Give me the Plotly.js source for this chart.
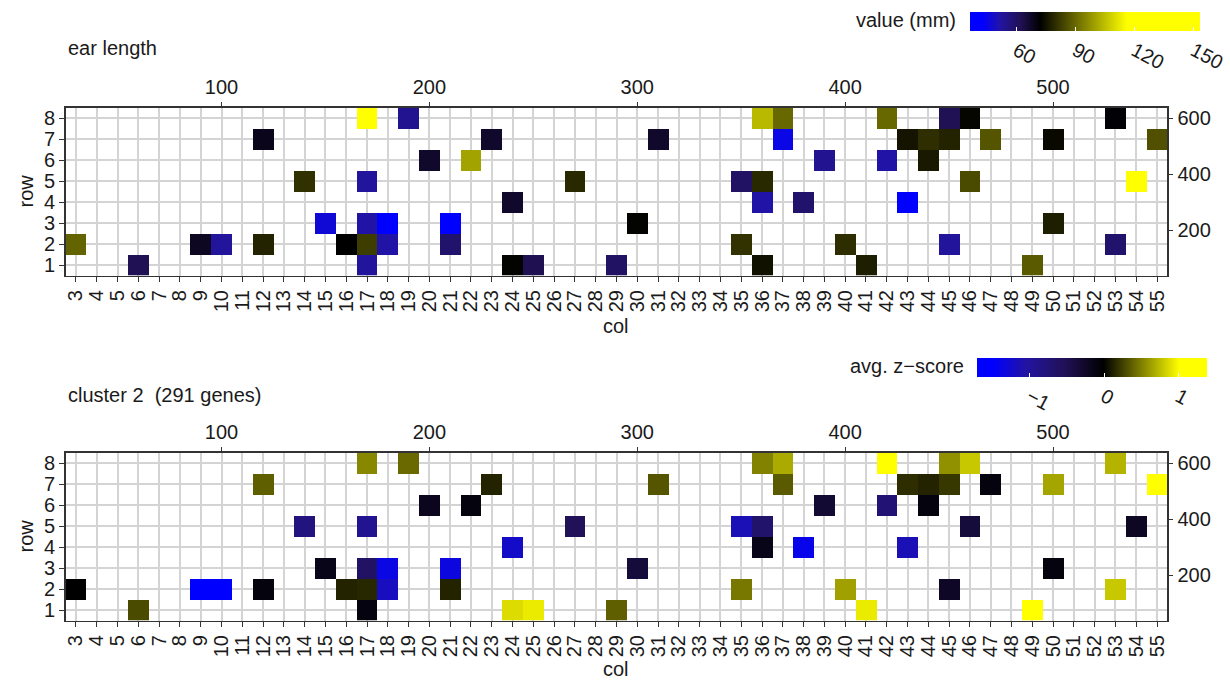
<!DOCTYPE html>
<html>
<head>
<meta charset="utf-8">
<script src="https://cdn.plot.ly/plotly-3.0.1.min.js"></script>
<style>html,body{margin:0;padding:0;background:#fff;}#chart{width:1230px;height:681px;}</style>
</head>
<body>
<div id="chart"></div>
<script>
// ---------- data ----------
var colLabels = [];
for (var c = 3; c <= 55; c++) colLabels.push(c);
var rowLabels = [1, 2, 3, 4, 5, 6, 7, 8];
var topAxisTicks = [100, 200, 300, 400, 500];
var rightAxisTicks = [200, 400, 600];

// panel 1: ear length (mm)
var earCol = [17, 19, 12, 23, 20, 22, 14, 17, 27, 24, 15, 17, 18, 21, 3, 9, 10, 12, 16, 17, 18, 21, 6, 17, 24, 25, 29,
              36, 37, 42, 45, 46, 53, 31, 37, 43, 44, 45, 47, 50, 55, 39, 42, 44, 35, 36, 46, 54, 36, 38, 43, 30, 50, 35, 40, 45, 53, 36, 41, 49];
var earRow = [8, 8, 7, 7, 6, 6, 5, 5, 5, 4, 3, 3, 3, 3, 2, 2, 2, 2, 2, 2, 2, 2, 1, 1, 1, 1, 1,
              8, 8, 8, 8, 8, 8, 7, 7, 7, 7, 7, 7, 7, 7, 6, 6, 6, 5, 5, 5, 5, 4, 4, 4, 3, 3, 2, 2, 2, 2, 1, 1, 1];
var earVal = [153, 54, 69, 67, 67, 100, 80.5, 52.5, 79, 67, 47, 51.5, 36.5, 40, 89, 68, 52.5, 78, 72, 82.5, 51.5, 59, 62, 52.5, 72.5, 62.5, 60,
              104, 90, 90, 62, 73, 71.3, 67, 45.5, 75.5, 80, 78, 86.7, 73.5, 85.8, 54, 51.5, 76.3, 60, 79, 85, 128, 51.5, 59, 41, 72.5, 77.2, 80.6, 79.8, 52.5, 59, 75, 77.2, 87.5];

// panel 2: cluster 2 average z-score
var zCol = [17, 19, 12, 23, 20, 22, 14, 17, 27, 24, 15, 17, 18, 21, 3, 9, 10, 12, 16, 17, 18, 21, 6, 17, 24, 25, 29,
            36, 37, 42, 45, 46, 53, 31, 37, 43, 44, 45, 47, 50, 55, 39, 42, 44, 35, 36, 46, 54, 36, 38, 43, 30, 50, 35, 40, 45, 53, 41, 49];
var zRow = [8, 8, 7, 7, 6, 6, 5, 5, 5, 4, 3, 3, 3, 3, 2, 2, 2, 2, 2, 2, 2, 2, 1, 1, 1, 1, 1,
            8, 8, 8, 8, 8, 8, 7, 7, 7, 7, 7, 7, 7, 7, 6, 6, 6, 5, 5, 5, 5, 4, 4, 4, 3, 3, 2, 2, 2, 2, 1, 1];
var zVal = [0.54, 0.42, 0.38, 0.14, -0.18, -0.08, -0.80, -0.92, -0.54, -1.23, -0.15, -0.62, -1.36, -1.33, 0, -1.70, -1.60, -0.08, 0.14, 0.16, -1.18, 0.14, 0.30, -0.08, 0.88, 0.94, 0.38,
            0.52, 0.68, 1.39, 0.58, 0.80, 0.72, 0.34, 0.36, 0.18, 0.14, 0.22, -0.08, 0.66, 1.20, -0.31, -0.73, -0.08, -1.13, -0.67, -0.36, -0.21, -0.15, -1.40, -1.13, -0.36, -0.08, 0.48, 0.64, -0.23, 0.80, 0.94, 1.10];

// colour ramp stops (value, colour)
var earStops = [[36.4, 'rgb(0,0,255)'], [43, 'rgb(0,0,255)'], [52, 'rgb(35,20,160)'], [62, 'rgb(32,17,85)'], [72, 'rgb(0,0,0)'], [116, 'rgb(255,255,0)'], [153.1, 'rgb(255,255,0)']];
var zStops = [[-1.70, 'rgb(0,0,255)'], [-1.49, 'rgb(0,0,255)'], [-1.03, 'rgb(35,20,160)'], [-0.514, 'rgb(32,17,85)'], [0, 'rgb(0,0,0)'], [1.02, 'rgb(255,255,0)'], [1.39, 'rgb(255,255,0)']];

// ---------- helpers ----------
function grid(cols, rows, vals) {
  var z = rowLabels.map(function () { return colLabels.map(function () { return null; }); });
  for (var i = 0; i < cols.length; i++) {
    z[rowLabels.indexOf(rows[i])][colLabels.indexOf(cols[i])] = vals[i];
  }
  return z;
}
function scale(stops) {
  var lo = stops[0][0], hi = stops[stops.length - 1][0];
  return stops.map(function (s) { return [(s[0] - lo) / (hi - lo), s[1]]; });
}

var FAM = 'Liberation Sans, Arial, sans-serif';
var font = {family: FAM, size: 20, color: '#1a1a1a'};
var tickFont = {family: FAM, size: 20, color: '#1a1a1a'};

function cb(x, y, tickvals, angle) {
  return {
    orientation: 'h', x: x, xanchor: 'center', y: y, yanchor: 'top',
    len: 230, lenmode: 'pixels', thickness: 19, thicknessmode: 'pixels',
    xpad: 0, ypad: 0, outlinewidth: 0,
    tickmode: 'array', tickvals: tickvals, ticks: 'inside', ticklen: 4, tickcolor: '#ffffff', tickwidth: 1,
    tickangle: angle, tickfont: tickFont
  };
}

var traces = [
  {
    type: 'heatmap', x: colLabels, y: rowLabels, z: grid(earCol, earRow, earVal),
    zmin: earStops[0][0], zmax: earStops[earStops.length - 1][0], colorscale: scale(earStops),
    xaxis: 'x', yaxis: 'y', hoverongaps: false,
    colorbar: cb(0.8819, 1 - 11.5 / 681, [60, 90, 120, 150], 28)
  },
  {type: 'scatter', mode: 'markers', x: [], y: [], xaxis: 'x2', yaxis: 'y2', hoverinfo: 'skip'},
  {
    type: 'heatmap', x: colLabels, y: rowLabels, z: grid(zCol, zRow, zVal),
    zmin: zStops[0][0], zmax: zStops[zStops.length - 1][0], colorscale: scale(zStops),
    xaxis: 'x3', yaxis: 'y3', hoverongaps: false,
    colorbar: cb(0.8882, 1 - 357.5 / 681, [-1, 0, 1], 28)
  },
  {type: 'scatter', mode: 'markers', x: [], y: [], xaxis: 'x4', yaxis: 'y4', hoverinfo: 'skip'}
];

var xDom = [65.6 / 1230, 1167.4 / 1230];
var yDomTop = [1 - 275.5 / 681, 1 - 107.5 / 681];
var yDomBot = [1 - 620.5 / 681, 1 - 452.5 / 681];

function colAxis(anchor) {
  return {
    domain: xDom, anchor: anchor, range: [2.5, 55.5], tickmode: 'array', tickvals: colLabels, ticktext: colLabels.map(String),
    tickangle: -90, ticks: 'outside', ticklen: 5, tickcolor: '#333', showgrid: true, gridcolor: '#d4d4d4', gridwidth: 2,
    showline: true, linecolor: '#333', linewidth: 1.5, mirror: true, zeroline: false, tickfont: tickFont, fixedrange: true
  };
}
function rowAxis(anchor, dom) {
  return {
    domain: dom, anchor: anchor, range: [0.5, 8.5], tickmode: 'array', tickvals: rowLabels, ticks: 'outside', ticklen: 5,
    tickcolor: '#333', showgrid: true, gridcolor: '#d4d4d4', gridwidth: 2, showline: true, linecolor: '#333', linewidth: 1.5,
    mirror: true, zeroline: false, tickfont: tickFont, fixedrange: true
  };
}
function topAxis(over, anchor) {
  return {
    overlaying: over, anchor: anchor, side: 'top', range: [25, 555], tickmode: 'array', tickvals: topAxisTicks,
    ticks: 'outside', ticklen: 5, tickcolor: '#333', showgrid: false, zeroline: false, showline: false, tickfont: tickFont, fixedrange: true
  };
}
function rightAxis(over, anchor) {
  return {
    overlaying: over, anchor: anchor, side: 'right', range: [37.5, 637.5], tickmode: 'array', tickvals: rightAxisTicks,
    ticks: 'outside', ticklen: 5, tickcolor: '#333', showgrid: false, zeroline: false, showline: false, tickfont: tickFont, fixedrange: true
  };
}

function ann(text, x, y, xanchor, extra) {
  var a = {text: text, x: x, y: y, xref: 'paper', yref: 'paper', xanchor: xanchor, yanchor: 'middle', showarrow: false, font: font};
  for (var k in extra) a[k] = extra[k];
  return a;
}

var layout = {
  width: 1230, height: 681, margin: {l: 0, r: 0, t: 0, b: 0},
  paper_bgcolor: '#ffffff', plot_bgcolor: '#ffffff', font: font, showlegend: false,
  xaxis: colAxis('y'), yaxis: rowAxis('x', yDomTop),
  xaxis2: topAxis('x', 'y2'), yaxis2: rightAxis('y', 'x2'),
  xaxis3: colAxis('y3'), yaxis3: rowAxis('x3', yDomBot),
  xaxis4: topAxis('x3', 'y4'), yaxis4: rightAxis('y3', 'x4'),
  annotations: [
    ann('ear length', 66 / 1230, 1 - 48 / 681, 'left'),
    ann('row', 25 / 1230, 1 - 191.5 / 681, 'center', {textangle: -90}),
    ann('col', 616 / 1230, 1 - 326 / 681, 'center'),
    ann('value (mm)', 958 / 1230, 1 - 20 / 681, 'right'),
    ann('cluster 2\u00a0 (291 genes)', 66 / 1230, 1 - 395 / 681, 'left'),
    ann('row', 25 / 1230, 1 - 536.5 / 681, 'center', {textangle: -90}),
    ann('col', 616 / 1230, 0, 'center', {yanchor: 'bottom', borderpad: 0}),
    ann('avg. z\u2212score', 966 / 1230, 1 - 366 / 681, 'right')
  ]
};

Plotly.newPlot('chart', traces, layout, {displayModeBar: false, staticPlot: true});
</script>
</body>
</html>
